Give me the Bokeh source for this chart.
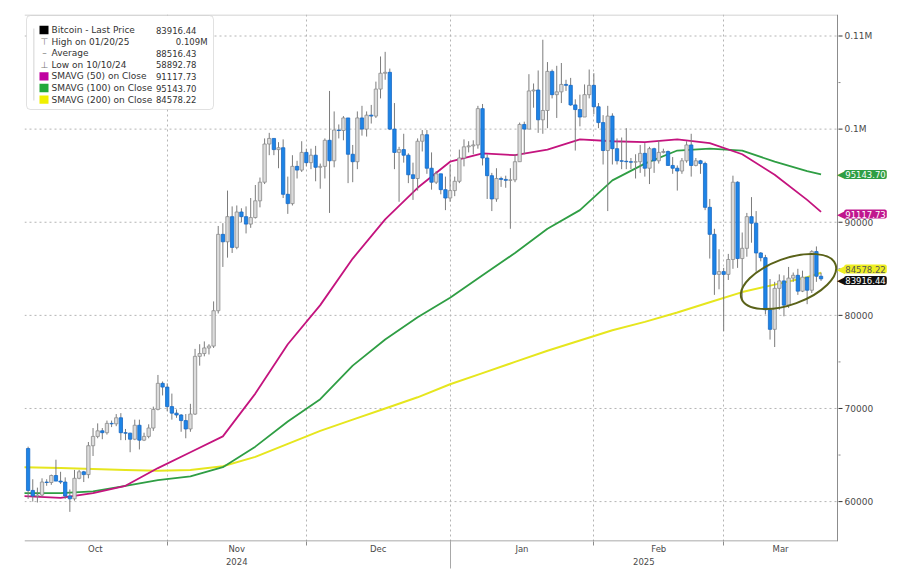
import pandas as pd
from bokeh.plotting import figure
from bokeh.models import (ColumnDataSource, Range1d, FixedTicker, Label, BoxAnnotation,
                          LinearAxis, Span)
from bokeh.embed import file_html
from bokeh.resources import INLINE

# ---------------- data (thousands of USD), daily 2024-10-01 .. 2025-03-21 ----------------
START = pd.Timestamp("2024-10-01")

opens_k = [
    65.7, 61.2, 60.6, 60.7, 62.1, 62.05, 62.8, 62.2, 62.1, 60.6, 60.3, 62.5, 63.2, 62.9, 66.0, 67.0, 67.6, 67.4, 68.4, 68.35, 69.0, 67.4, 67.35, 66.7, 68.2, 66.6, 67.0, 67.9, 69.9, 72.7, 72.3,
    70.2, 69.5, 69.3, 68.7, 67.8, 69.4, 75.6, 75.9, 76.5, 76.7, 80.5, 88.7, 87.9, 90.6, 87.3, 91.1, 90.6, 89.8, 90.5, 92.3, 94.3, 98.4, 99.0, 97.8, 98.0, 93.0, 92.0, 96.0, 95.6, 97.5,
    96.4, 97.2, 95.9, 96.0, 98.8, 96.6, 99.9, 99.85, 101.2, 97.3, 96.5, 101.2, 100.0, 101.5, 101.4, 104.3, 106.0, 106.1, 100.0, 97.5, 97.8, 97.2, 95.1, 94.7, 98.7, 99.4, 95.8, 94.3, 95.2, 93.5, 92.6,
    93.4, 94.4, 96.9, 98.1, 98.2, 98.3, 102.2, 96.9, 95.0, 92.5, 94.7, 94.6, 94.5, 94.55, 96.5, 100.5, 100.0, 104.1, 104.2, 101.0, 102.0, 106.2, 103.7, 104.0, 104.8, 104.7, 102.6, 102.1, 101.3, 103.7, 104.7,
    102.4, 100.7, 97.7, 101.4, 97.9, 96.6, 96.55, 96.5, 96.45, 96.5, 97.4, 95.8, 97.9, 96.6, 97.5, 97.6, 96.1, 95.8, 95.5, 96.6, 98.3, 96.1, 96.6, 96.3, 91.6, 88.7, 84.4, 84.7,
    84.4, 86.0, 94.3, 86.1, 87.2, 90.6, 89.9, 86.7, 86.2, 80.6, 78.5, 82.9, 83.7, 81.1, 84.0, 84.3, 82.6, 84.1, 82.7, 86.85, 84.2,
]
highs_k = [
    65.9, 62.4, 61.5, 62.5, 62.4, 62.9, 64.5, 63.2, 62.6, 61.3, 63.4, 63.4, 63.3, 66.4, 67.9, 68.4, 67.9, 68.7, 68.7, 69.4, 69.5, 67.8, 67.4, 68.8, 68.8, 67.4, 68.3, 70.2, 73.6, 72.9, 72.7,
    71.6, 69.9, 69.4, 69.4, 70.5, 76.4, 76.9, 77.2, 76.9, 81.5, 89.6, 89.9, 93.4, 91.7, 91.8, 91.5, 91.7, 92.6, 94.0, 94.8, 99.0, 99.6, 99.0, 98.6, 98.9, 94.9, 97.2, 96.6, 98.7, 97.9,
    97.9, 98.2, 96.3, 99.0, 104.1, 101.9, 100.5, 101.4, 101.2, 98.3, 101.9, 102.5, 101.9, 102.6, 105.1, 107.8, 108.3, 106.5, 102.8, 98.1, 99.5, 97.4, 96.4, 99.0, 99.9, 99.9, 97.5, 95.5, 95.2, 94.9, 96.2,
    94.9, 97.8, 98.9, 98.7, 98.8, 102.5, 102.7, 97.3, 95.3, 95.8, 94.9, 95.0, 95.8, 97.3, 100.7, 100.8, 105.9, 104.9, 106.3, 109.6, 107.2, 106.4, 106.8, 107.1, 105.3, 105.5, 103.2, 103.7, 104.8, 106.4, 106.0,
    102.8, 101.5, 102.5, 101.7, 99.0, 99.1, 100.1, 96.9, 97.3, 98.3, 98.5, 98.1, 98.0, 98.8, 97.9, 97.7, 97.0, 96.1, 96.9, 98.7, 99.5, 96.9, 96.7, 96.5, 92.5, 89.3, 87.1, 85.1,
    86.6, 95.0, 94.4, 88.9, 91.0, 92.7, 91.2, 86.8, 86.5, 83.9, 83.6, 84.4, 84.3, 85.2, 84.6, 85.0, 84.8, 84.1, 87.0, 87.4, 84.6,
]
lows_k = [
    60.3, 60.0, 59.9, 60.5, 61.7, 61.8, 62.2, 61.9, 60.3, 58.9, 60.1, 62.4, 62.1, 62.5, 64.9, 66.8, 66.7, 67.2, 68.0, 68.1, 66.6, 66.6, 65.3, 66.6, 65.6, 66.5, 66.8, 67.6, 69.8, 71.4, 69.7,
    68.8, 69.0, 67.5, 66.8, 67.5, 69.3, 74.6, 75.6, 75.8, 76.5, 80.2, 85.2, 86.2, 86.7, 87.1, 90.0, 88.8, 89.4, 90.4, 91.6, 94.1, 97.2, 97.2, 95.8, 92.6, 90.9, 91.8, 94.7, 95.4, 96.0,
    95.7, 94.4, 93.6, 94.7, 91.0, 95.9, 99.0, 98.8, 94.2, 94.3, 95.7, 99.3, 99.2, 100.6, 101.2, 103.3, 105.3, 99.9, 95.7, 92.2, 96.4, 94.2, 92.4, 93.4, 97.6, 95.2, 93.5, 94.1, 93.0, 91.3, 92.2,
    92.8, 94.2, 96.0, 97.5, 97.3, 97.9, 96.1, 92.5, 91.2, 92.2, 93.8, 93.7, 89.3, 94.3, 96.5, 97.3, 100.0, 102.3, 99.6, 99.5, 100.1, 103.3, 101.2, 102.8, 104.1, 102.5, 97.7, 100.3, 101.3, 103.3, 101.6,
    100.1, 96.2, 91.2, 96.2, 96.2, 95.7, 95.7, 95.7, 94.7, 95.3, 94.9, 94.1, 95.3, 96.3, 97.4, 96.1, 95.2, 93.4, 95.2, 96.4, 94.9, 96.0, 95.2, 91.3, 86.1, 82.2, 82.8, 78.3,
    83.8, 85.0, 85.1, 81.5, 86.3, 87.8, 84.7, 85.8, 80.1, 77.4, 76.6, 80.6, 79.9, 80.8, 83.6, 82.2, 82.5, 81.2, 82.4, 83.6, 83.7,
]
closes_k = [
    61.2, 60.6, 60.7, 62.1, 62.05, 62.8, 62.2, 62.1, 60.6, 60.3, 62.5, 63.2, 62.9, 66.0, 67.0, 67.6, 67.4, 68.4, 68.35, 69.0, 67.4, 67.35, 66.7, 68.2, 66.6, 67.0, 67.9, 69.9, 72.7, 72.3, 70.2,
    69.5, 69.3, 68.7, 67.8, 69.4, 75.6, 75.9, 76.5, 76.7, 80.5, 88.7, 87.9, 90.6, 87.3, 91.1, 90.6, 89.8, 90.5, 92.3, 94.3, 98.4, 99.0, 97.8, 98.0, 93.0, 92.0, 96.0, 95.6, 97.5, 96.4,
    97.2, 95.9, 96.0, 98.8, 96.6, 99.9, 99.85, 101.2, 97.3, 96.5, 101.2, 100.0, 101.5, 101.4, 104.3, 106.0, 106.1, 100.0, 97.5, 97.8, 97.2, 95.1, 94.7, 98.7, 99.4, 95.8, 94.3, 95.2, 93.5, 92.6, 93.4,
    94.4, 96.9, 98.1, 98.2, 98.3, 102.2, 96.9, 95.0, 92.5, 94.7, 94.6, 94.5, 94.55, 96.5, 100.5, 100.0, 104.1, 104.2, 101.0, 102.0, 106.2, 103.7, 104.0, 104.8, 104.7, 102.6, 102.1, 101.3, 103.7, 104.7, 102.4,
    100.7, 97.7, 101.4, 97.9, 96.6, 96.55, 96.5, 96.45, 96.5, 97.4, 95.8, 97.9, 96.6, 97.5, 97.6, 96.1, 95.8, 95.5, 96.6, 98.3, 96.1, 96.6, 96.3, 91.6, 88.7, 84.4, 84.7, 84.4,
    86.0, 94.3, 86.1, 87.2, 90.6, 89.9, 86.7, 86.2, 80.6, 78.5, 82.9, 83.7, 81.1, 84.0, 84.3, 82.6, 84.1, 82.7, 86.85, 84.2, 83.92,
]

# moving averages at weekly sample dates (thousands of USD)
sma_dates = ["2024-09-30", "2024-10-08", "2024-10-15", "2024-10-22", "2024-10-29", "2024-11-05",
             "2024-11-12", "2024-11-19", "2024-11-26", "2024-12-03", "2024-12-10", "2024-12-17",
             "2024-12-24", "2024-12-31", "2025-01-07", "2025-01-14", "2025-01-21", "2025-01-28",
             "2025-02-04", "2025-02-11", "2025-02-18", "2025-02-25", "2025-03-04", "2025-03-11",
             "2025-03-18", "2025-03-21"]
sma50_k = [60.6, 60.4, 60.9, 61.7, 63.6, 65.3, 67.0, 71.6, 76.9, 81.1, 86.1, 90.3, 93.7, 96.5,
           97.4, 97.2, 97.8, 98.9, 98.7, 98.6, 98.9, 98.5, 97.3, 95.1, 92.4, 91.12]
sma100_k = [60.9, 60.9, 61.1, 61.7, 62.3, 62.7, 63.7, 65.9, 68.6, 71.0, 74.6, 77.4, 79.8, 81.9,
            84.3, 86.7, 89.3, 91.3, 94.5, 96.3, 97.7, 97.9, 97.7, 96.5, 95.5, 95.14]
sma200_k = [63.7, 63.6, 63.5, 63.4, 63.3, 63.4, 63.8, 64.8, 66.2, 67.6, 68.8, 70.0, 71.2, 72.6,
            73.8, 75.0, 76.2, 77.3, 78.4, 79.3, 80.3, 81.4, 82.5, 83.3, 84.1, 84.58]

month_starts = ["2024-10-01", "2024-11-01", "2024-12-01", "2025-01-01", "2025-02-01", "2025-03-01"]
month_names = ["Oct", "Nov", "Dec", "Jan", "Feb", "Mar"]
year_names = ["2024", "2025"]

y_ticks = [60000, 70000, 80000, 90000, 100000, 110000]
y_tick_labels = ["60000", "70000", "80000", "90000", "0.1M", "0.11M"]
y_minor = [65000, 75000, 85000, 95000, 105000]

legend_names = ["Bitcoin - Last Price", "High on 01/20/25", "Average", "Low on 10/10/24",
                "SMAVG (50)  on Close", "SMAVG (100)  on Close", "SMAVG (200)  on Close"]
legend_values = ["83916.44", "0.109M", "88516.43", "58892.78", "91117.73", "95143.70", "84578.22"]

# ---------------- geometry (pixels of the picture) ----------------
W, H = 905, 575
FRAME_L, FRAME_T, FRAME_B = 24, 14, 541      # bokeh frame (right edge = figure edge)
PLOT_R = 837                                 # visible chart box right edge (price axis line)
DAY_PX = 4.637
X_LO = -0.78
Y_HI = 112309
USD_PX = 0.009312                            # pixels per dollar
X_HI = X_LO + (W - FRAME_L) / DAY_PX
Y_LO = Y_HI - (FRAME_B - FRAME_T) / USD_PX


def px2x(px):
    return X_LO + (px - FRAME_L) / DAY_PX


def py2y(py):
    return Y_HI - (py - FRAME_T) / USD_PX


X_END = px2x(PLOT_R)

UP_FILL, UP_LINE = "#dcdcdc", "#8c8c8c"
DN_FILL, DN_LINE = "#1d84e6", "#1868c4"
WICK = "#7c7c7c"
MAG, GRN, YEL = "#c4147e", "#2f9e44", "#e6e61e"
FONT = "DejaVu Sans"
AX = "#8c8c8c"
GRID = "#b4b4b4"
TXT = "#4a4a4a"

# ---------------- sources ----------------
idx = [(d - START).days for d in pd.date_range(START, periods=len(closes_k), freq="D")]
o = [v * 1000 for v in opens_k]
h = [v * 1000 for v in highs_k]
l = [v * 1000 for v in lows_k]
c = [v * 1000 for v in closes_k]
up = [cc >= oo for oo, cc in zip(o, c)]
src = ColumnDataSource(dict(
    x=idx, high=h, low=l,
    top=[max(a, b) for a, b in zip(o, c)],
    bot=[min(a, b) for a, b in zip(o, c)],
    fill=[UP_FILL if u else DN_FILL for u in up],
    line=[UP_LINE if u else DN_LINE for u in up],
))
sma_idx = [(pd.Timestamp(d) - START).days for d in sma_dates]

p = figure(width=W, height=H, output_backend="svg", toolbar_location=None,
           x_range=Range1d(X_LO, X_HI), y_range=Range1d(Y_LO, Y_HI),
           x_axis_location=None, y_axis_location=None,
           min_border_left=FRAME_L, min_border_top=FRAME_T, min_border_right=0,
           min_border_bottom=H - FRAME_B)
p.background_fill_color = "white"
p.border_fill_color = "white"
p.outline_line_color = None

# ---- time axis (two stacked bottom axes: months, then years) ----
grid_idx = [(pd.Timestamp(m) - START).days - 1 for m in month_starts]
sep_idx = grid_idx[3]
bounds = grid_idx + [X_END]
month_mid = [(bounds[k] + bounds[k + 1]) / 2 for k in range(len(month_names))]
ybounds = [grid_idx[0], sep_idx, X_END]
year_mid = [(ybounds[k] + ybounds[k + 1]) / 2 for k in range(len(year_names))]

ax_m = LinearAxis(ticker=FixedTicker(ticks=month_mid, minor_ticks=grid_idx[1:]),
                  major_label_overrides={t: n for t, n in zip(month_mid, month_names)})
ax_y = LinearAxis(ticker=FixedTicker(ticks=year_mid, minor_ticks=[sep_idx]),
                  major_label_overrides={t: n for t, n in zip(year_mid, year_names)})
for ax, so in ((ax_m, -2), (ax_y, -11)):
    ax.axis_line_color = None
    ax.major_tick_line_color = None
    ax.major_tick_out = 0
    ax.major_tick_in = 0
    ax.major_label_standoff = so
    ax.major_label_text_font = FONT
    ax.major_label_text_font_size = "8.5px"
    ax.major_label_text_color = TXT
ax_m.minor_tick_out = 4
ax_m.minor_tick_in = 0
ax_m.minor_tick_line_color = AX
ax_y.minor_tick_in = 15
ax_y.minor_tick_out = 12
ax_y.minor_tick_line_color = "#a8a8a8"
p.add_layout(ax_m, "below")
p.add_layout(ax_y, "below")

# vertical month grid
p.xgrid.ticker = FixedTicker(ticks=grid_idx)
p.xgrid.grid_line_color = GRID
p.xgrid.grid_line_dash = "2 3"
p.ygrid.visible = False

# horizontal price grid, limited to the chart box
p.segment(x0=[X_LO] * len(y_ticks), x1=[X_END] * len(y_ticks), y0=y_ticks, y1=y_ticks,
          line_color=GRID, line_dash="2 3", line_width=1)

# chart box lines
p.segment(x0=[X_LO], x1=[X_END], y0=[py2y(14.5)], y1=[py2y(14.5)], line_color="#c4c4c4", line_width=1)
p.segment(x0=[X_LO], x1=[X_END], y0=[py2y(540.5)], y1=[py2y(540.5)], line_color=AX, line_width=1)
p.add_layout(Span(location=X_END, dimension="height", line_color=AX, line_width=1))

# price axis ticks and labels (right side)
p.segment(x0=[px2x(838)] * len(y_ticks), x1=[px2x(842)] * len(y_ticks), y0=y_ticks, y1=y_ticks,
          line_color="#333333", line_width=1)
p.segment(x0=[px2x(838)] * len(y_minor), x1=[px2x(840)] * len(y_minor), y0=y_minor, y1=y_minor,
          line_color="#888888", line_width=1)
for t, s in zip(y_ticks, y_tick_labels):
    p.add_layout(Label(x=px2x(844), y=t, text=s, text_font=FONT, text_font_size="9px",
                       text_color=TXT, text_align="left", text_baseline="middle"))

# ---- moving averages ----
p.line(sma_idx, [v * 1000 for v in sma200_k], line_color=YEL, line_width=2)
p.line(sma_idx, [v * 1000 for v in sma100_k], line_color=GRN, line_width=1.8)
p.line(sma_idx, [v * 1000 for v in sma50_k], line_color=MAG, line_width=1.8)

# ---- candles ----
p.segment(x0="x", y0="low", x1="x", y1="high", source=src, line_color=WICK, line_width=1)
p.vbar(x="x", width=0.72, top="top", bottom="bot", source=src,
       fill_color="fill", line_color="line", line_width=0.8)

# ---- highlight ellipse ----
p.ellipse(x=[px2x(788)], y=[py2y(281)], width=100, height=46, angle=20, angle_units="deg",
          width_units="screen", height_units="screen",
          fill_alpha=0, line_color="#5a6219", line_width=2)


def lab(px, py, text, size="8px", color="#222222", align="left", **kw):
    p.add_layout(Label(x=px2x(px), y=py2y(py), text=text, text_font=FONT,
                       text_font_size=size, text_color=color, text_align=align,
                       text_baseline="middle", **kw))


# ---- right-hand value tags ----
tags = [("95143.70", GRN, "white", 174), ("91117.73", "#c0168e", "white", 213.5),
        ("84578.22", "#eeee22", "#555555", 268.5), ("83916.44", "#101010", "white", 280)]
for txt, bg, fg, py in tags:
    lab(845, py, "\u25c0", size="11px", color=bg, align="right")
    lab(865, py, txt, size="8.5px", color=fg, align="center",
        background_fill_color=bg, background_fill_alpha=1, padding=1, border_radius=2)

# ---- legend box ----
p.add_layout(BoxAnnotation(left=px2x(26), right=px2x(213), top=py2y(15), bottom=py2y(109),
                           fill_color="white", fill_alpha=1, line_color="#9a9a9a",
                           line_width=1, border_radius=4))
p.add_layout(BoxAnnotation(left=px2x(33), right=px2x(33.8), top=py2y(28), bottom=py2y(100),
                           fill_color="#c8c8c8", fill_alpha=1, line_color=None))
row_y = [29.5 + 11.6 * k for k in range(7)]
swatch = {0: "#000000", 4: "#c000a0", 5: "#22a83a", 6: "#f0f000"}
marks = {1: "\u22a4", 2: "\u2013", 3: "\u22a5"}
for k in range(7):
    ry = row_y[k]
    if k in swatch:
        p.add_layout(BoxAnnotation(left=px2x(39), right=px2x(48), top=py2y(ry - 4.2),
                                   bottom=py2y(ry + 4.2), fill_color=swatch[k], fill_alpha=1,
                                   line_color=None))
    else:
        lab(44, ry, marks[k], size="9px", color="#777777", align="center")
    lab(51, ry, legend_names[k], size="9px", color="#333333")
    lab(207 if k == 1 else 196, ry, legend_values[k], size="8.5px", color="#333333", align="right")

open("out.html", "w").write(file_html(p, INLINE))
